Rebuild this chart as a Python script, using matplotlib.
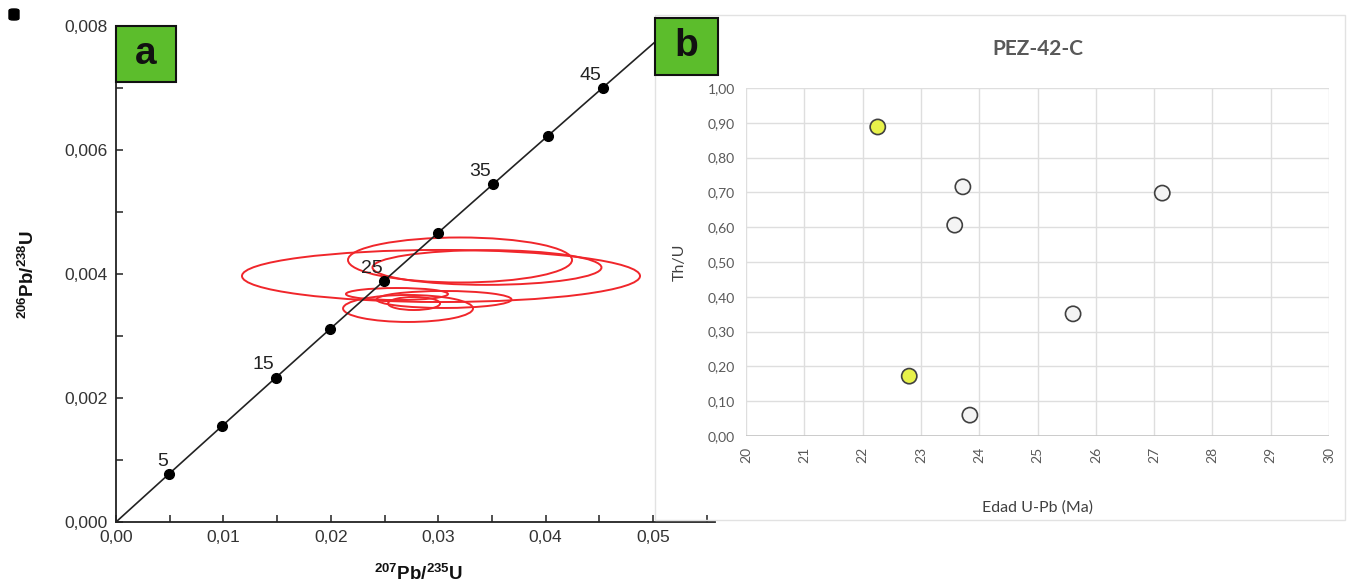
import numpy as np
import matplotlib
matplotlib.use('Agg')
import matplotlib.pyplot as plt
from matplotlib.patches import Ellipse, Rectangle, FancyBboxPatch

plt.rcParams['font.family'] = ['Liberation Sans', 'DejaVu Sans']
plt.rcParams['mathtext.fontset'] = 'custom'
plt.rcParams['mathtext.rm'] = 'Liberation Sans'
plt.rcParams['mathtext.bf'] = 'Liberation Sans:bold'

# ---- panel a: concordia ----
LAMBDA_238 = 1.55125e-10
LAMBDA_235 = 9.8485e-10
concordia_ages = [5, 10, 15, 20, 25, 30, 35, 40, 45]     # Ma, marked points
labelled_ages = [5, 15, 25, 35, 45]

# error ellipses: centre 207/235, centre 206/238, full width, full height
ell_x = [0.03026, 0.03203, 0.03454, 0.02616, 0.02719, 0.03054, 0.02775]
ell_y = [0.003968, 0.004226, 0.004105, 0.003677, 0.003444, 0.003589, 0.003524]
ell_w = [0.03706, 0.02086, 0.02132, 0.0095, 0.0121, 0.01257, 0.00484]
ell_h = [0.00084, 0.000726, 0.00056, 0.000194, 0.000435, 0.000274, 0.00021]

# ---- panel b: Th/U vs age ----
age_ma = [22.26, 23.72, 23.58, 27.14, 25.61, 22.80, 23.84]
th_u = [0.888, 0.716, 0.606, 0.698, 0.351, 0.172, 0.060]
highlight = [True, False, False, False, False, True, False]

W, H = 1359, 588
fig = plt.figure(figsize=(W / 100, H / 100), dpi=100)
fig.patch.set_facecolor('white')

def fx(px):
    return px / W

def fy(py):
    return 1 - py / H

# ---------------- panel a ----------------
axa = fig.add_axes([fx(116), fy(522), fx(715) - fx(116), fy(26) - fy(522)])
axa.set_xlim(0, 0.05577)
axa.set_ylim(0, 0.008)
for s in ['top', 'right']:
    axa.spines[s].set_visible(False)
for s in ['left', 'bottom']:
    axa.spines[s].set_linewidth(1.3)
    axa.spines[s].set_color('#222222')

t = np.linspace(0, 56, 300) * 1e6
axa.plot(np.expm1(LAMBDA_235 * t), np.expm1(LAMBDA_238 * t), color='#222222', lw=1.2, zorder=3)
ta = np.array(concordia_ages) * 1e6
axa.plot(np.expm1(LAMBDA_235 * ta), np.expm1(LAMBDA_238 * ta), 'o', color='black', ms=7, zorder=4)
for age in labelled_ages:
    x = np.expm1(LAMBDA_235 * age * 1e6)
    y = np.expm1(LAMBDA_238 * age * 1e6)
    axa.annotate(str(age), (x, y), xytext=(-1, 3), textcoords='offset points',
                 ha='right', va='bottom', fontsize=14, color='#222222', zorder=5)

for cx, cy, w, h in zip(ell_x, ell_y, ell_w, ell_h):
    axa.add_patch(Ellipse((cx, cy), w, h, fill=False, edgecolor='#f0262b', lw=1.4, zorder=2))

axa.set_xticks(np.arange(0, 0.0551, 0.01))
axa.set_xticks(np.arange(0, 0.0551, 0.005), minor=True)
axa.set_yticks(np.arange(0, 0.0081, 0.002))
axa.set_yticks(np.arange(0, 0.0081, 0.001), minor=True)
axa.set_xticklabels([f'{v:.2f}'.replace('.', ',') for v in axa.get_xticks()])
axa.set_yticklabels([f'{v:.3f}'.replace('.', ',') for v in axa.get_yticks()])
axa.tick_params(which='both', direction='in', length=5, width=1.1, color='#222222',
                labelsize=12.5, labelcolor='#333333', pad=6)
axa.set_xlabel(r'$^{\mathbf{207}}$Pb/$^{\mathbf{235}}$U', fontsize=13.5, fontweight='bold',
               color='#111111')
axa.xaxis.set_label_coords((418 - 116) / (715 - 116), -(563 - 522) / 496)
axa.set_ylabel(r'$^{\mathbf{206}}$Pb/$^{\mathbf{238}}$U', fontsize=13.5, fontweight='bold',
               color='#111111')
axa.yaxis.set_label_coords(-(116 - 38) / (715 - 116), (522 - 275) / 496)

# ---------------- panel b ----------------
# light chart frame
fig.add_artist(Rectangle((fx(655), fy(520)), fx(1345) - fx(655), fy(15) - fy(520),
                         transform=fig.transFigure, fill=False, edgecolor='#e2e2e2', lw=1.0))

axb = fig.add_axes([fx(746), fy(436), fx(1329) - fx(746), fy(88) - fy(436)])
axb.set_xlim(20, 30)
axb.set_ylim(0, 1.0)
for s in axb.spines.values():
    s.set_visible(False)
axb.set_xticks(np.arange(20, 31, 1))
axb.set_yticks(np.arange(0, 1.01, 0.1))
axb.grid(True, color='#dedede', lw=1.0)
axb.axhline(0, color='#c4c4c4', lw=1.2)
axb.set_axisbelow(True)
axb.set_yticklabels([f'{v:.2f}'.replace('.', ',') for v in axb.get_yticks()])
axb.set_xticklabels([str(int(v)) for v in axb.get_xticks()], rotation=90)
axb.tick_params(length=0, labelsize=10, labelcolor='#595959', pad=8)
for lbl in axb.get_xticklabels() + axb.get_yticklabels():
    lbl.set_family(['Lato', 'DejaVu Sans'])

face = ['#e8f24a' if h else '#f4f4f4' for h in highlight]
axb.scatter(age_ma, th_u, s=120, c=face, edgecolors='#404040', linewidths=1.2, zorder=3)

axb.set_title('PEZ-42-C', fontsize=15, fontweight='bold', color='#595959',
              family=['Lato', 'DejaVu Sans'], pad=24)
axb.set_xlabel('Edad U-Pb (Ma)', fontsize=11.5, color='#404040',
               family=['Lato', 'DejaVu Sans'], labelpad=27)
axb.set_ylabel('Th/U', fontsize=11.5, color='#404040',
               family=['Lato', 'DejaVu Sans'], labelpad=15)

# ---------------- panel tags ----------------
def tag(x0, y0, x1, y1, letter):
    fig.add_artist(Rectangle((fx(x0), fy(y1)), fx(x1) - fx(x0), fy(y0) - fy(y1),
                             transform=fig.transFigure, facecolor='#5cbd2c',
                             edgecolor='#111111', lw=1.5, zorder=10))
    fig.text(fx((x0 + x1) / 2), fy((y0 + y1) / 2), letter, ha='center', va='center',
             fontsize=28, fontweight='bold', color='#111111', zorder=11)

tag(116, 26, 176, 82, 'a')
tag(655, 18, 718, 75, 'b')

fig.add_artist(FancyBboxPatch((fx(9), fy(20)), fx(10), fy(9) - fy(20),
                              boxstyle='round,pad=0,rounding_size=0.003',
                              transform=fig.transFigure, facecolor='black',
                              edgecolor='black', zorder=10))

fig.savefig('out.png', dpi=100, facecolor='white')
